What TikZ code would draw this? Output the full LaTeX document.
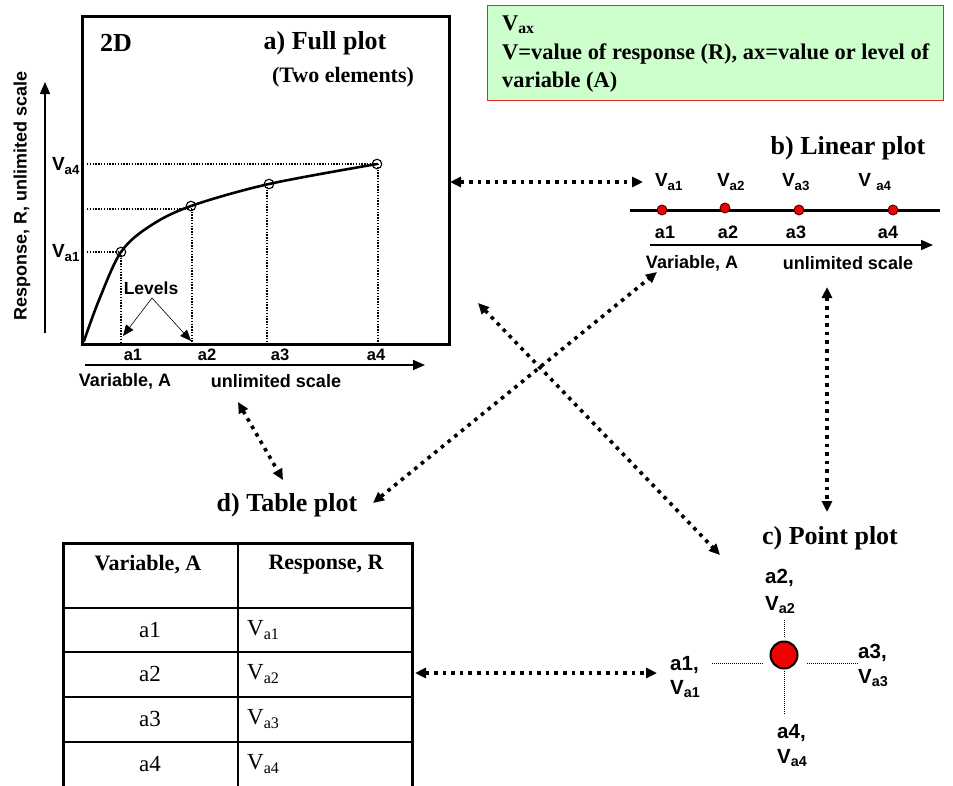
\documentclass[tikz,border=0pt]{standalone}
\usepackage{fontspec}
\setmainfont{Liberation Serif}
\setsansfont{Liberation Sans}
\usetikzlibrary{arrows.meta}
\definecolor{legendgreen}{RGB}{204,255,204}
\definecolor{legendred}{RGB}{235,40,40}
\definecolor{ptred}{RGB}{240,0,0}
\begin{document}
\begin{tikzpicture}[x=1pt,y=-1pt,
  ttl/.style={font=\rmfamily\bfseries\fontsize{26}{30}\selectfont, inner sep=0},
  subttl/.style={font=\rmfamily\bfseries\fontsize{22}{27}\selectfont, inner sep=0},
  legtxt/.style={font=\rmfamily\bfseries\fontsize{22.4}{27}\selectfont, inner sep=0, anchor=west},
  cell/.style={font=\rmfamily\fontsize{23}{27}\selectfont, inner sep=0},
  slbl/.style={font=\sffamily\bfseries\fontsize{18}{21}\selectfont, inner sep=0},
  alab/.style={font=\sffamily\bfseries\fontsize{16.5}{19}\selectfont, inner sep=0},
  vlab/.style={font=\sffamily\bfseries\fontsize{19}{22}\selectfont, inner sep=0},
  plab/.style={font=\sffamily\bfseries\fontsize{20.5}{24}\selectfont, inner sep=0, anchor=west},
  guide/.style={line width=1.4pt, dash pattern=on 1.4pt off 1.4pt},
  thinguide/.style={line width=0.9pt, dash pattern=on 0.9pt off 1.1pt},
  axisarrow/.style={line width=1.6pt, -{Triangle[length=12pt,width=10pt]}},
  dotarrow/.style={line width=3.6pt, dash pattern=on 3.6pt off 5pt,
    {Triangle[length=11pt,width=10pt]}-{Triangle[length=11pt,width=10pt]}},
  levelarrow/.style={line width=0.6pt, -{Triangle[length=11pt,width=9pt]}},
  rdot/.style={circle, fill=ptred, draw=black!70!red, line width=0.9pt, minimum size=10pt, inner sep=0},
  opencirc/.style={circle, draw=black, line width=1.1pt, minimum size=9.5pt, inner sep=0}
]
\useasboundingbox (0,0) rectangle (953,785);

% ---------------- a) Full plot ----------------
\node[draw, line width=3pt, minimum width=367pt, minimum height=328pt, inner sep=0, anchor=north west] (fullbox) at (81,15) {};
\node[ttl] (t2d) at (116,43) {2D};
\node[ttl] (tfull) at (325,43) {a) Full plot};
\node[subttl] (ttwo) at (343,77) {(Two elements)};

\coordinate (yax0) at (45,333);
\coordinate (yax1) at (45,82);
\draw[axisarrow] (yax0) -- (yax1);
\node[slbl, rotate=90] (ylab) at (22,196) {Response, R, unlimited scale};

\coordinate (xax0) at (85,365);
\coordinate (xax1) at (425,365);
\draw[axisarrow] (xax0) -- (xax1);
\node[alab] (fa1) at (133,355) {a1};
\node[alab] (fa2) at (207,355) {a2};
\node[alab] (fa3) at (280,355) {a3};
\node[alab] (fa4) at (376,355) {a4};
\node[slbl] (fvar) at (125,381) {Variable, A};
\node[slbl] (fscale) at (276,381) {unlimited scale};

\node[vlab] (fva4) at (66,166) {V\textsubscript{a4}};
\node[vlab] (fva1) at (66,253) {V\textsubscript{a1}};

% guides
\draw[guide] (87,164) -- (377,164);
\draw[guide] (87,209) -- (191,209);
\draw[guide] (87,252) -- (121,252);
\draw[guide] (121,252) -- (121,342);
\draw[guide] (192,206) -- (192,342);
\draw[guide] (267,184) -- (267,342);
\draw[guide] (378,164) -- (378,342);

% curve
\draw[line width=2.6pt, line cap=round] plot[smooth, tension=0.55] coordinates {(84,341) (99,300) (121,252) (150,226) (191,206) (269,184) (377,164)};
\node[opencirc] (p1) at (121,252) {};
\node[opencirc] (p2) at (191,206) {};
\node[opencirc] (p3) at (269,184) {};
\node[opencirc] (p4) at (377,164) {};

% levels
\node[font=\sffamily\bfseries\fontsize{17.5}{20}\selectfont, inner sep=0] (levels) at (151,288) {Levels};
\coordinate (lvfrom) at (152,298);
\coordinate (lvl1) at (123,336);
\coordinate (lvl2) at (191,341);
\draw[levelarrow] (lvfrom) -- (lvl1);
\draw[levelarrow] (lvfrom) -- (lvl2);

% ---------------- legend ----------------
\node[draw=legendred, fill=legendgreen, line width=1pt, minimum width=456pt, minimum height=95pt, inner sep=0, anchor=north west] (legend) at (487,5) {};
\node[legtxt] (lv) at (502,25) {V\textsubscript{ax}};
\node[legtxt] (ll2) at (502,54) {V=value of response (R), ax=value or level of};
\node[legtxt] (ll3) at (502,82) {variable (A)};

% ---------------- b) Linear plot ----------------
\node[ttl] (tlin) at (848,148) {b) Linear plot};
\draw[line width=3pt] (630,210) coordinate (lin0) -- (940,210) coordinate (lin1);
\node[rdot] (d1) at (662,210) {};
\node[rdot] (d2) at (725,208) {};
\node[rdot] (d3) at (799,210) {};
\node[rdot] (d4) at (893,210) {};
\node[vlab] (lva1) at (669,182) {V\textsubscript{a1}};
\node[vlab] (lva2) at (731,182) {V\textsubscript{a2}};
\node[vlab] (lva3) at (796,182) {V\textsubscript{a3}};
\node[vlab] (lva4) at (875,182) {V \textsubscript{a4}};
\node[slbl] (la1) at (665,232) {a1};
\node[slbl] (la2) at (728,232) {a2};
\node[slbl] (la3) at (796,232) {a3};
\node[slbl] (la4) at (888,232) {a4};
\coordinate (lax0) at (650,245);
\coordinate (lax1) at (933,245);
\draw[axisarrow] (lax0) -- (lax1);
\node[slbl] (lvar) at (692,263) {Variable, A};
\node[slbl] (lscale) at (848,263) {unlimited scale};

% ---------------- c) Point plot ----------------
\node[ttl] (tpt) at (830,538) {c) Point plot};
\draw[thinguide] (712,663) -- (763,663);
\draw[thinguide] (807,663) -- (858,663);
\draw[thinguide] (784,620) -- (784,638);
\draw[thinguide] (784,671) -- (784,715);
\node[circle, fill=ptred, draw=black, line width=2pt, minimum size=27pt, inner sep=0] (bigdot) at (784,655) {};
\node[plab] (pa2) at (765,578) {a2,};
\node[plab] (pv2) at (765,605) {V\textsubscript{a2}};
\node[plab] (pa1) at (670,665) {a1,};
\node[plab] (pv1) at (670,689) {V\textsubscript{a1}};
\node[plab] (pa3) at (858,653) {a3,};
\node[plab] (pv3) at (858,678) {V\textsubscript{a3}};
\node[plab] (pa4) at (777,733) {a4,};
\node[plab] (pv4) at (777,758) {V\textsubscript{a4}};

% ---------------- d) Table plot ----------------
\node[ttl] (ttab) at (287,505) {d) Table plot};
\draw[line width=3pt] (63,790) -- (63,543) -- (412,543) -- (412,790);
\draw[line width=1.5pt] (238,543) -- (238,790);
\draw[line width=2pt] (63,608) -- (412,608);
\draw[line width=1.8pt] (63,652) -- (412,652);
\draw[line width=1.8pt] (63,697) -- (412,697);
\draw[line width=1.8pt] (63,742) -- (412,742);
\node[subttl] (hvar) at (148,565) {Variable, A};
\node[subttl] (hres) at (326,565) {Response, R};
\node[cell] (c1) at (150,630) {a1};
\node[cell] (c2) at (150,674) {a2};
\node[cell] (c3) at (150,719) {a3};
\node[cell] (c4) at (150,764) {a4};
\node[cell, anchor=west] (v1) at (247,630) {V\textsubscript{a1}};
\node[cell, anchor=west] (v2) at (247,674) {V\textsubscript{a2}};
\node[cell, anchor=west] (v3) at (247,719) {V\textsubscript{a3}};
\node[cell, anchor=west] (v4) at (247,764) {V\textsubscript{a4}};

% ---------------- connectors ----------------
\coordinate (ab0) at (450,182);
\coordinate (ab1) at (643,182);
\coordinate (bc0) at (827,287);
\coordinate (bc1) at (827,512);
\coordinate (ad0) at (238,402);
\coordinate (ad1) at (283,480);
\coordinate (db0) at (373,503);
\coordinate (db1) at (657,272);
\coordinate (ac0) at (478,303);
\coordinate (ac1) at (720,555);
\coordinate (dc0) at (415,673);
\coordinate (dc1) at (657,673);
\draw[dotarrow] (ab0) -- (ab1);
\draw[dotarrow] (bc0) -- (bc1);
\draw[dotarrow] (ad0) -- (ad1);
\draw[dotarrow] (db0) -- (db1);
\draw[dotarrow] (ac0) -- (ac1);
\draw[dotarrow] (dc0) -- (dc1);
\end{tikzpicture}
\end{document}
